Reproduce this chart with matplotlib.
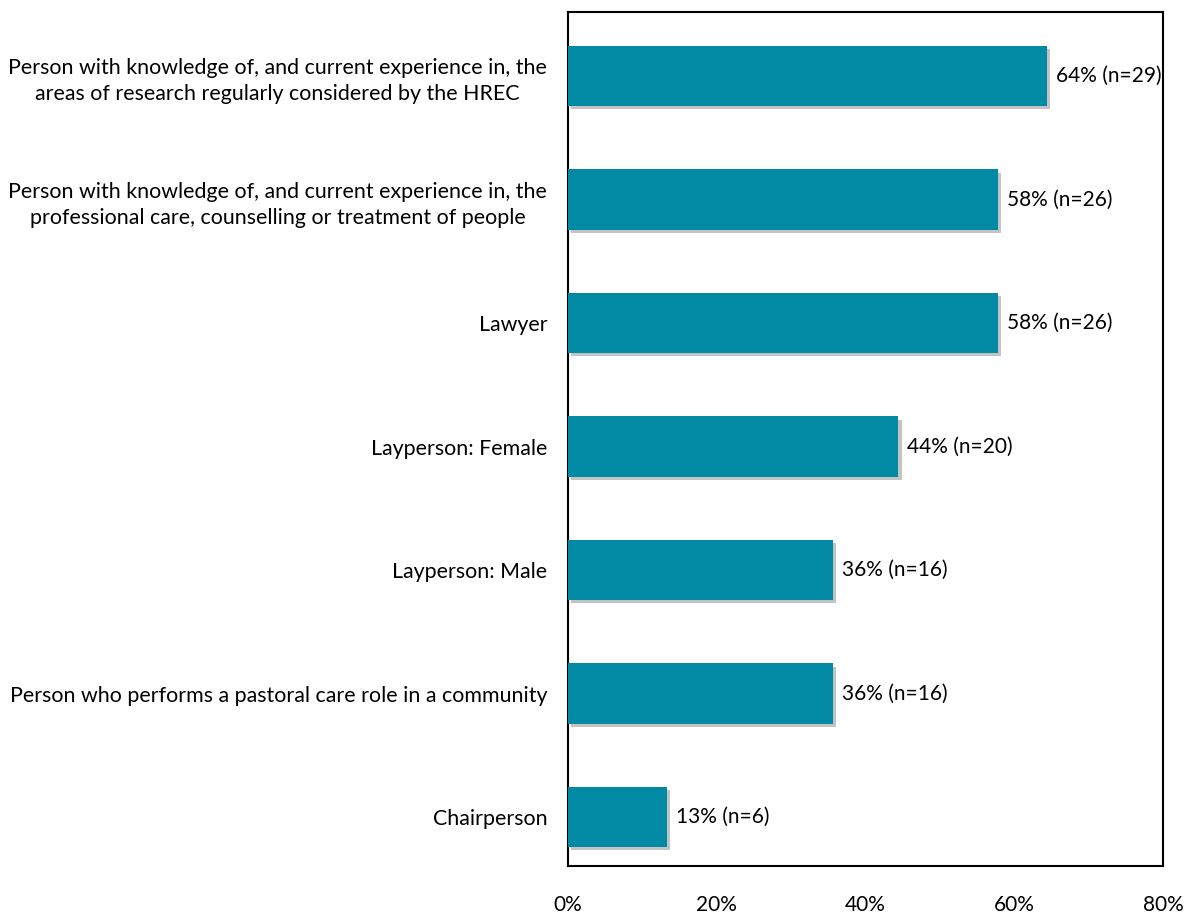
import matplotlib.pyplot as plt
import matplotlib.patheffects as pe

plt.rcParams['font.family'] = ['Lato', 'DejaVu Sans']

categories = [
    "Person with knowledge of, and current experience in, the\nareas of research regularly considered by the HREC",
    "Person with knowledge of, and current experience in, the\nprofessional care, counselling or treatment of people",
    "Lawyer",
    "Layperson: Female",
    "Layperson: Male",
    "Person who performs a pastoral care role in a community",
    "Chairperson",
]
values = [64.4, 57.8, 57.8, 44.4, 35.6, 35.6, 13.3]
labels = ["64% (n=29)", "58% (n=26)", "58% (n=26)", "44% (n=20)",
          "36% (n=16)", "36% (n=16)", "13% (n=6)"]
xticks = [0, 20, 40, 60, 80]

fig = plt.figure(figsize=(11.91, 9.18), dpi=100)
ax = fig.add_axes([0.4769, 0.0566, 0.4996, 0.9303])

ypos = list(range(len(categories)))[::-1]
bars = ax.barh(ypos, values, height=0.486, color='#028AA5', zorder=3)
for b in bars:
    b.set_path_effects([pe.SimplePatchShadow(offset=(2.5, -2.5), shadow_rgbFace='#888888', alpha=0.5),
                        pe.Normal()])

for y, v, t in zip(ypos, values, labels):
    ax.text(v + 1.2, y, t, va='center', ha='left', fontsize=15)

ax.set_xlim(0, 80)
ax.set_ylim(-0.397, 6.518)
ax.set_xticks(xticks)
ax.set_xticklabels([f"{x}%" for x in xticks], fontsize=15)
ax.set_yticks(ypos)
ax.set_yticklabels(categories, fontsize=15.4, ha='right', multialignment='center',
                   linespacing=1.4)
ax.tick_params(axis='y', length=0, pad=15)
ax.tick_params(axis='x', length=0, pad=21)
for s in ax.spines.values():
    s.set_linewidth(1.5)
    s.set_color('black')

fig.savefig('out.png', dpi=100)
